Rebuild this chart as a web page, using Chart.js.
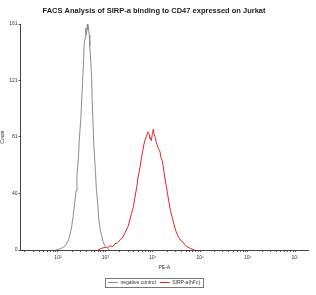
<!DOCTYPE html>
<html>
<head>
<meta charset="utf-8">
<script src="https://cdn.jsdelivr.net/npm/chart.js@4.4.1/dist/chart.umd.min.js"></script>
<style>
  html, body { margin: 0; padding: 0; background: #fff; }
  #wrap { width: 316px; height: 295px; }
</style>
</head>
<body>
<div id="wrap"><canvas id="facs"></canvas></div>
<script>
// PE-A position in log10 units, count per bin
const negCtrlLog = [1.96, 2.01, 2.06, 2.11, 2.15, 2.19, 2.23, 2.26, 2.29, 2.32, 2.35, 2.38, 2.40, 2.43, 2.45, 2.48, 2.50, 2.52, 2.54, 2.55, 2.57, 2.58, 2.59, 2.60, 2.62, 2.63, 2.64, 2.66, 2.67, 2.69, 2.71, 2.72, 2.74, 2.76, 2.79, 2.81, 2.84, 2.86, 2.89, 2.92, 2.95, 2.99, 3.02, 3.05, 3.09];
const negCtrlCount = [0, 0.5, 1, 2, 3, 5, 8, 12, 17, 24, 33, 42, 53, 65, 79, 93, 107, 121, 134, 146, 151, 155, 158, 153, 161, 157, 159, 153, 145, 136, 122, 107, 89, 72, 56, 43, 32, 22, 15, 10, 6, 3, 2, 1, 0];

const sirpLog = [2.84, 2.91, 2.99, 3.05, 3.09, 3.16, 3.20, 3.25, 3.31, 3.36, 3.41, 3.45, 3.48, 3.52, 3.55, 3.59, 3.62, 3.66, 3.69, 3.73, 3.76, 3.79, 3.81, 3.84, 3.87, 3.89, 3.92, 3.94, 3.95, 3.97, 3.99, 4.01, 4.03, 4.05, 4.07, 4.09, 4.12, 4.15, 4.17, 4.20, 4.23, 4.25, 4.28, 4.31, 4.34, 4.37, 4.41, 4.44, 4.48, 4.53, 4.58, 4.64, 4.69, 4.74, 4.80, 4.88];
const sirpCount = [0, 1, 2, 1.5, 3, 2.5, 4.5, 5, 7, 9, 12, 15, 17, 22, 26, 31, 37, 45, 52, 59, 66, 71, 75, 79, 81, 84, 83, 79, 80, 78, 83, 86, 82, 80, 77, 75, 72, 70, 66, 63, 57, 52, 46, 40, 34, 28, 23, 19, 14, 10, 7, 5.5, 3, 2, 1, 0];

const yTickValues = [0, 40, 81, 121, 161];
const decades = [1, 2, 3, 4, 5, 6, 7];
const supers = { 2: '\u00b2', 3: '\u00b3', 4: '\u2074', 5: '\u2075', 6: '\u2076', 7: '\u2077' };

const toPoints = (xs, ys) => xs.map((x, i) => ({ x: x, y: ys[i] }));

const legendBorder = {
  id: 'legendBorder',
  afterDraw(chart) {
    const boxes = chart.legend && chart.legend.legendHitBoxes;
    if (!boxes || !boxes.length) return;
    const x0 = Math.min(...boxes.map(b => b.left));
    const x1 = Math.max(...boxes.map(b => b.left + b.width));
    const y0 = Math.min(...boxes.map(b => b.top));
    const y1 = Math.max(...boxes.map(b => b.top + b.height));
    const ctx = chart.ctx;
    ctx.save();
    ctx.strokeStyle = '#777';
    ctx.lineWidth = 1;
    ctx.strokeRect(Math.round(x0 - 3) + 0.5, Math.round(y0 - 2) + 0.5, Math.round(x1 - x0 + 6), Math.round(y1 - y0 + 4));
    ctx.restore();
  }
};

const ctx = document.getElementById('facs').getContext('2d');
new Chart(ctx, {
  type: 'line',
  data: {
    datasets: [
      {
        label: 'negative control',
        data: toPoints(negCtrlLog, negCtrlCount),
        borderColor: '#8c8c8c',
        borderWidth: 1,
        pointRadius: 0,
        tension: 0
      },
      {
        label: 'SIRP-a(hFc)',
        data: toPoints(sirpLog, sirpCount),
        borderColor: '#e3232b',
        borderWidth: 1,
        pointRadius: 0,
        tension: 0
      }
    ]
  },
  options: {
    responsive: true,
    maintainAspectRatio: false,
    animation: false,
    layout: { padding: { left: 0, right: 8, top: 0, bottom: 0 } },
    plugins: {
      title: {
        display: true,
        text: 'FACS Analysis of SIRP-a binding to CD47 expressed on Jurkat',
        color: '#222',
        font: { family: 'Liberation Sans', size: 7.5, weight: 'bold' },
        padding: { top: 6, bottom: 9 }
      },
      legend: {
        position: 'bottom',
        labels: {
          color: '#333',
          font: { family: 'Liberation Sans', size: 5 },
          usePointStyle: true,
          pointStyleWidth: 10,
          pointStyle: 'line',
          padding: 4
        }
      },
      tooltip: { enabled: false }
    },
    scales: {
      x: {
        type: 'linear',
        min: 1.21,
        max: 7.27,
        afterBuildTicks(scale) {
          const ticks = [];
          decades.forEach(d => {
            for (let k = 1; k <= 9; k++) {
              const v = d + Math.log10(k);
              if (v >= scale.min && v <= scale.max) ticks.push({ value: v });
            }
          });
          scale.ticks = ticks;
        },
        afterFit(scale) { scale.height = 26; },
        border: { display: true, color: '#444', width: 1 },
        grid: { drawOnChartArea: false, drawTicks: true, tickLength: 2, color: '#555' },
        ticks: {
          autoSkip: false,
          maxRotation: 0,
          padding: 3,
          color: '#333',
          font: { family: 'Liberation Sans', size: 5 },
          callback(value) {
            const r = Math.round(value);
            if (Math.abs(value - r) < 1e-6 && supers[r]) return '10' + supers[r];
            return '';
          }
        },
        title: {
          display: true,
          text: 'PE-A',
          color: '#333',
          font: { family: 'Liberation Sans', size: 5 },
          padding: { top: 1, bottom: 5 }
        }
      },
      y: {
        min: 0,
        max: 161,
        afterBuildTicks(scale) {
          scale.ticks = yTickValues.map(v => ({ value: v }));
        },
        afterFit(scale) { scale.width = 20.5; },
        border: { display: true, color: '#444', width: 1 },
        grid: { drawOnChartArea: false, drawTicks: true, tickLength: 2, color: '#555' },
        ticks: {
          padding: 1,
          color: '#333',
          font: { family: 'Liberation Sans', size: 5 }
        },
        title: {
          display: true,
          text: 'Count',
          color: '#333',
          font: { family: 'Liberation Sans', size: 5 },
          padding: { top: 0, bottom: 0 }
        }
      }
    }
  },
  plugins: [legendBorder]
});
</script>
</body>
</html>
